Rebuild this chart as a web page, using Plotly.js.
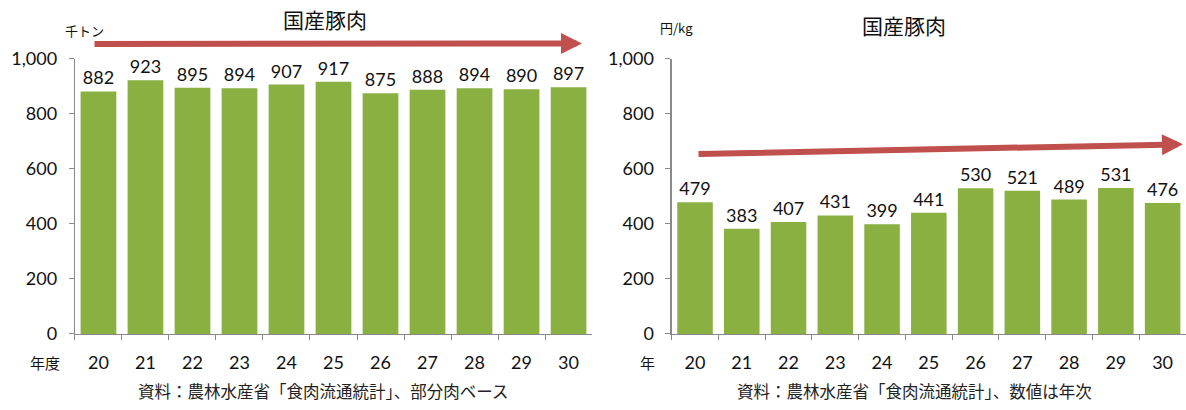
<!DOCTYPE html>
<html>
<head>
<meta charset="utf-8">
<script src="https://cdn.plot.ly/plotly-3.0.1.min.js"></script>
<style>html,body{margin:0;padding:0;background:#fff;}#chart{width:1186px;height:410px;}</style>
</head>
<body>
<div id="chart"></div>
<script>
const years = ["20","21","22","23","24","25","26","27","28","29","30"];
const production = [882, 923, 895, 894, 907, 917, 875, 888, 894, 890, 897];
const price = [479, 383, 407, 431, 399, 441, 530, 521, 489, 531, 476];
const yTicks = [0, 200, 400, 600, 800, 1000];
const chartTitle = "国産豚肉";
const leftUnit = "千トン";
const rightUnit = "円/kg";
const leftXLabel = "年度";
const rightXLabel = "年";
const leftNote = "資料：農林水産省「食肉流通統計」、部分肉ベース";
const rightNote = "資料：農林水産省「食肉流通統計」、数値は年次";

const green = "#8ab042";
const numFont = {family: "Lato, 'Open Sans', sans-serif", size: 18, color: "#111"};
const cjk = "'Noto Sans CJK JP', sans-serif";

function barTrace(vals, xa, ya) {
  return {
    type: "bar", x: years, y: vals, xaxis: xa, yaxis: ya,
    marker: {color: green, line: {width: 0}},
    text: vals.map(String), textposition: "outside", cliponaxis: false,
    textfont: numFont, hoverinfo: "skip"
  };
}

const xBase = {
  type: "category", showline: true, linecolor: "#8a8a8a", linewidth: 1.2,
  ticks: "outside", tickson: "boundaries", ticklen: 5, tickcolor: "#8a8a8a",
  tickfont: numFont, showgrid: false, zeroline: false, ticklabelstandoff: 12, fixedrange: true
};
const yBase = {
  range: [0, 1000], tickvals: yTicks, tickformat: ",d", showline: true,
  linecolor: "#8a8a8a", linewidth: 1.2, ticks: "outside", ticklen: 5, tickcolor: "#8a8a8a",
  tickfont: numFont, showgrid: false, zeroline: false, ticklabelstandoff: 8,
  domain: [0.1854, 0.8561], fixedrange: true
};

function label(text, px, py, size, color) {
  return {text: text, xref: "paper", yref: "paper", x: px/1186, y: 1 - py/410,
    xanchor: "center", yanchor: "middle", showarrow: false,
    font: {family: cjk, size: size, color: color || "#111"}};
}
function arrow(tipX, tipY, ax, ay) {
  return {text: "", xref: "paper", yref: "paper", x: tipX/1186, y: 1 - tipY/410,
    axref: "pixel", ayref: "pixel", ax: ax, ay: ay, showarrow: true,
    arrowhead: 2, arrowsize: 0.7, arrowwidth: 6, arrowcolor: "#c0504d"};
}

const layout = {
  width: 1186, height: 410, margin: {l: 0, r: 0, t: 0, b: 0},
  paper_bgcolor: "#fff", plot_bgcolor: "#fff", showlegend: false, bargap: 0.24,
  xaxis: Object.assign({}, xBase, {domain: [0.0632, 0.4992], anchor: "y"}),
  yaxis: Object.assign({}, yBase, {anchor: "x"}),
  xaxis2: Object.assign({}, xBase, {domain: [0.5663, 1.0], anchor: "y2"}),
  yaxis2: Object.assign({}, yBase, {anchor: "x2"}),
  annotations: [
    label(chartTitle, 325, 19, 21),
    label(chartTitle, 904, 25, 21),
    label(leftUnit, 84, 31, 13),
    label(rightUnit, 676, 27, 13),
    label(leftXLabel, 45, 362, 15),
    label(rightXLabel, 647, 362, 15),
    label(leftNote, 323, 391, 16.5, "#222"),
    label(rightNote, 914, 391, 16.5, "#222"),
    arrow(582, 43.5, -489, 0.5),
    arrow(1183, 144.3, -486, 9.7)
  ]
};

Plotly.newPlot("chart", [barTrace(production, "x", "y"), barTrace(price, "x2", "y2")], layout,
  {displayModeBar: false, staticPlot: true});
</script>
</body>
</html>
